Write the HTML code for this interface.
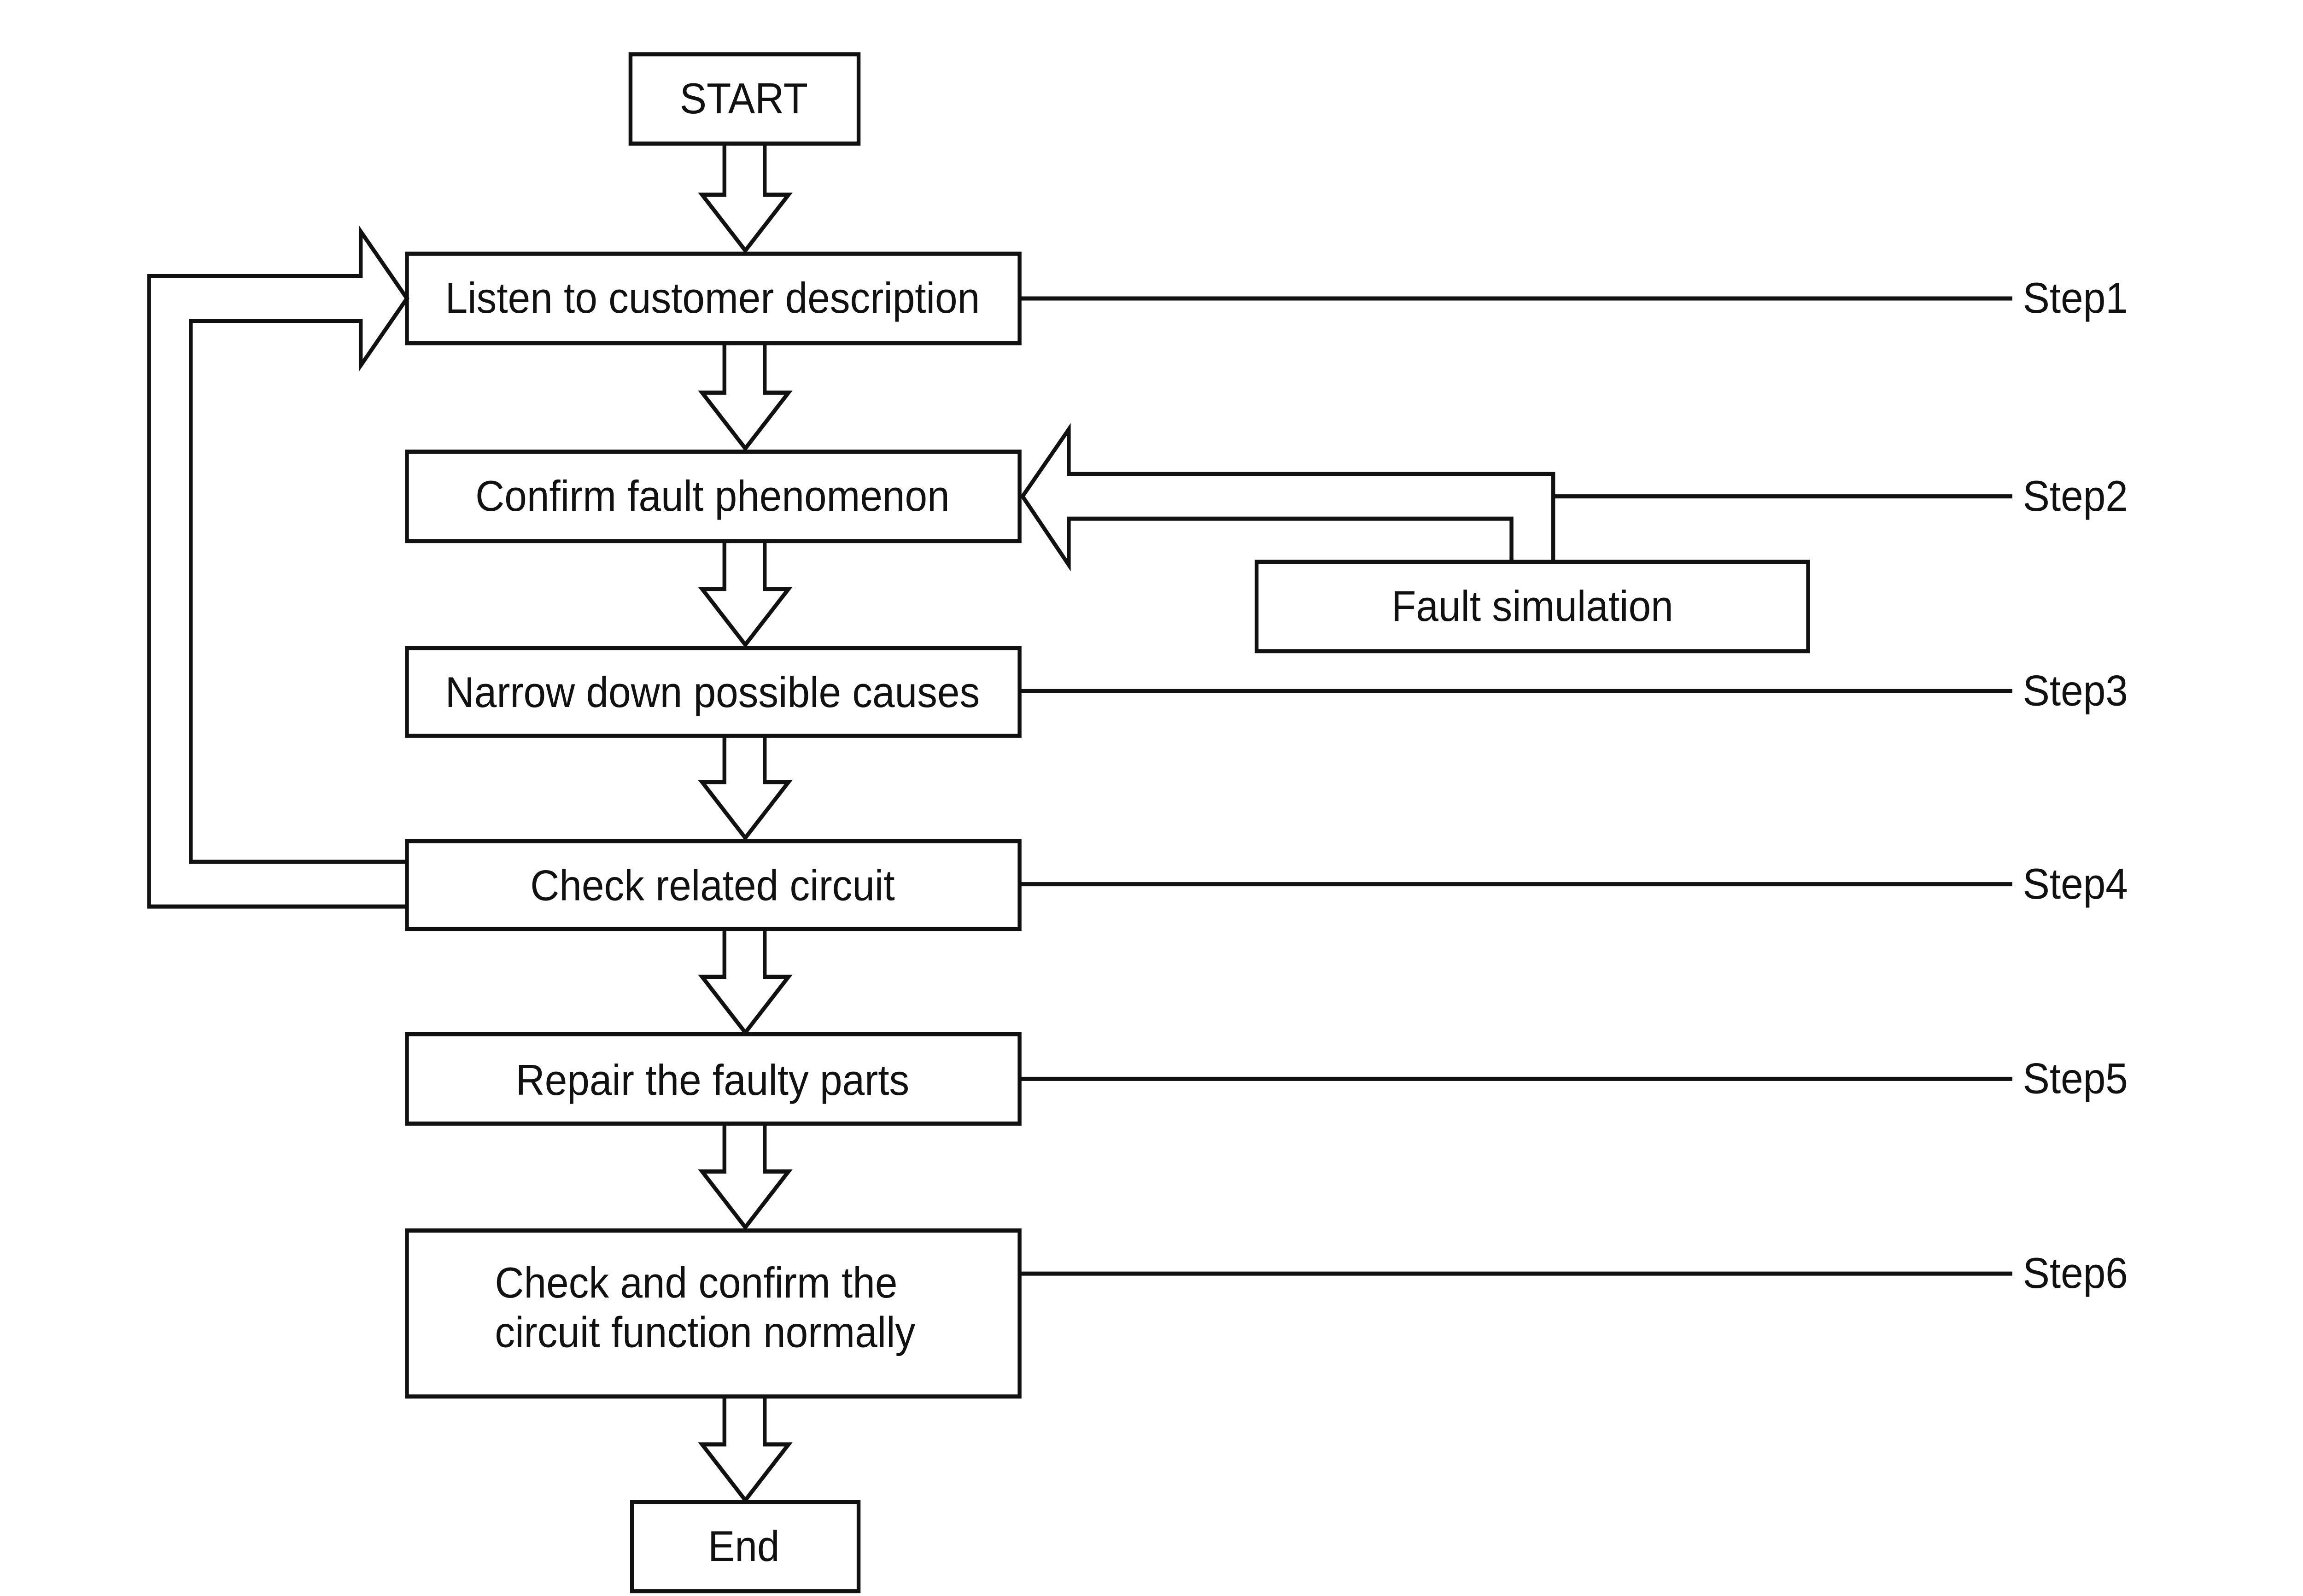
<!DOCTYPE html>
<html><head><meta charset="utf-8"><style>
html,body{margin:0;padding:0;background:#fff;overflow:hidden;width:100%;height:100%;}
svg{display:block;width:100vw;height:100vh;}
text{font-family:"Liberation Sans",sans-serif;font-size:27px;fill:#111;}
</style></head><body>
<svg viewBox="0 0 1545 1000" preserveAspectRatio="none" xmlns="http://www.w3.org/2000/svg">
<rect width="1545" height="1000" fill="#fff"/>
<g fill="none" stroke="#111" stroke-width="2.6" stroke-linejoin="miter">
<rect x="423" y="34" width="153" height="56"/>
<rect x="273" y="159" width="411" height="56"/>
<rect x="273" y="283" width="411" height="56"/>
<rect x="273" y="406" width="411" height="55"/>
<rect x="273" y="527" width="411" height="55"/>
<rect x="273" y="648" width="411" height="56"/>
<rect x="273" y="771" width="411" height="104"/>
<rect x="424" y="941" width="152" height="56"/>
<rect x="843" y="352" width="370" height="56"/>
<path d="M486 90 V122 H471 L500 157 L529 122 H513 V90"/>
<path d="M486 215 V246 H471 L500 281 L529 246 H513 V215"/>
<path d="M486 339 V369 H471 L500 404 L529 369 H513 V339"/>
<path d="M486 461 V490 H471 L500 525 L529 490 H513 V461"/>
<path d="M486 582 V612 H471 L500 647 L529 612 H513 V582"/>
<path d="M486 704 V734 H471 L500 769 L529 734 H513 V704"/>
<path d="M486 875 V905 H471 L500 940 L529 905 H513 V875"/>
<path d="M684 187 H1350 M684 433 H1350 M684 554 H1350 M684 676 H1350 M684 798 H1350 M1042 311 H1350"/>
<path d="M1042 352 V297 H717 V269 L686 311 L717 354 V325 H1014 V352"/>
<path d="M273 568 H100 V173 H242 V145 L273 187 L242 229 V201 H128 V540 H273"/>
</g>
<text x="499" y="71" text-anchor="middle">START</text>
<text x="478" y="196" text-anchor="middle">Listen to customer description</text>
<text x="478" y="320" text-anchor="middle">Confirm fault phenomenon</text>
<text x="478" y="443" text-anchor="middle">Narrow down possible causes</text>
<text x="478" y="564" text-anchor="middle">Check related circuit</text>
<text x="478" y="686" text-anchor="middle">Repair the faulty parts</text>
<text x="332" y="813">Check and confirm the</text>
<text x="332" y="844">circuit function normally</text>
<text x="499" y="978" text-anchor="middle">End</text>
<text x="1028" y="389" text-anchor="middle">Fault simulation</text>
<text x="1357" y="196">Step1</text>
<text x="1357" y="320">Step2</text>
<text x="1357" y="442">Step3</text>
<text x="1357" y="563">Step4</text>
<text x="1357" y="685">Step5</text>
<text x="1357" y="807">Step6</text>
</svg>
</body></html>
